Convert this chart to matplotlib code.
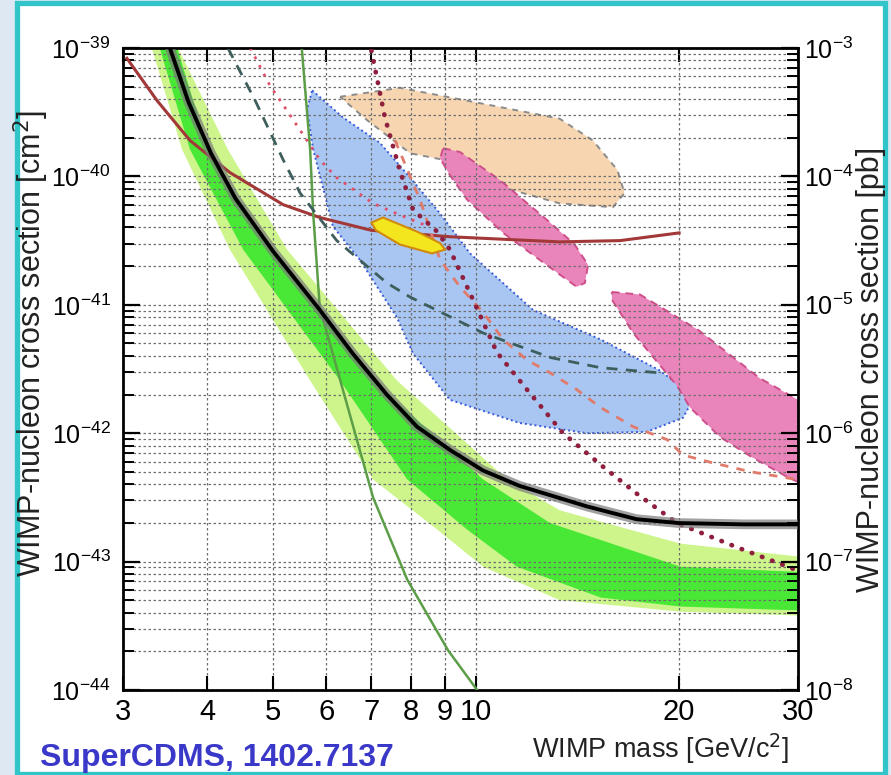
import numpy as np
import matplotlib.pyplot as plt
from matplotlib.patches import Rectangle
from matplotlib.ticker import FixedLocator, FixedFormatter, LogLocator, NullLocator, NullFormatter

plt.rcParams['font.family'] = ['Liberation Sans', 'DejaVu Sans']

# WIMP mass in GeV/c^2, cross sections stored as log10(sigma / cm^2)
black_m = [3.45, 3.52, 3.75, 4.05, 4.4, 5.0, 5.87, 6.57, 7.38, 8.18, 9.15, 10.24, 11.6, 14.6, 17.3, 20.0,
           25.0, 30.0]
black_s = [-38.88, -39.0, -39.42, -39.82, -40.17, -40.58, -41.04, -41.38, -41.70, -41.95, -42.13, -42.29,
           -42.41, -42.57, -42.67, -42.70, -42.71, -42.71]

# expected sensitivity bands (upper and lower edges)
green_up_m = [3.61, 4.01, 4.95, 7.04, 10.25, 12.88, 20.1, 30.0]
green_up_s = [-39.0, -39.79, -40.57, -41.59, -42.36, -42.70, -43.04, -43.08]
green_lo_m = [3.40, 3.77, 4.52, 6.29, 7.91, 9.70, 11.5, 15.3, 20.1, 30.0]
green_lo_s = [-39.0, -39.79, -40.57, -41.59, -42.36, -42.75, -43.04, -43.28, -43.35, -43.38]
light_up_m = [3.62, 4.29, 5.25, 7.64, 11.12, 13.3, 20.1, 30.0]
light_up_s = [-39.0, -39.79, -40.57, -41.59, -42.36, -42.60, -42.86, -42.96]
light_lo_m = [3.31, 3.67, 4.32, 5.68, 7.04, 8.76, 10.25, 13.3, 20.1, 30.0]
light_lo_s = [-39.0, -39.79, -40.57, -41.59, -42.36, -42.75, -43.04, -43.30, -43.39, -43.42]

brown_m = [3.04, 3.37, 3.77, 4.32, 5.18, 5.87, 7.0, 9.15, 13.3, 16.35, 20.0]
brown_s = [-39.08, -39.41, -39.72, -39.97, -40.22, -40.32, -40.42, -40.47, -40.51, -40.50, -40.44]

lite_m = [5.52, 5.68, 5.74, 5.87, 6.35, 7.04, 7.91, 9.09, 10.04]
lite_s = [-39.0, -39.79, -40.29, -41.02, -41.66, -42.50, -43.14, -43.69, -44.0]

xe_m = [4.29, 4.71, 5.18, 5.49, 6.22, 7.38, 7.99, 10.25, 12.88, 15.3, 18.7]
xe_s = [-39.0, -39.41, -39.87, -40.13, -40.50, -40.83, -40.94, -41.22, -41.41, -41.49, -41.53]

pink_dot_m = [4.63, 4.95, 5.30, 5.87, 6.22, 7.04, 7.71, 8.41]
pink_dot_s = [-39.0, -39.29, -39.52, -39.87, -40.01, -40.21, -40.30, -40.38]

red_dot_m = [7.0, 7.33, 7.71, 8.07, 8.76, 9.15, 9.90, 10.74, 11.9, 13.46, 15.42, 17.3, 19.85, 24.4, 30.0]
red_dot_s = [-39.02, -39.54, -39.95, -40.26, -40.43, -40.57, -40.96, -41.37, -41.66, -42.0, -42.26,
             -42.47, -42.70, -42.89, -43.07]

salmon_m = [7.59, 8.26, 8.85, 9.47, 10.25, 10.97, 11.9, 12.88, 14.1, 15.3, 17.1, 19.2, 20.26, 22.4, 25.5, 29.8]
salmon_s = [-39.72, -40.18, -40.65, -40.86, -41.06, -41.27, -41.43, -41.53, -41.66, -41.80, -41.95,
            -42.05, -42.17, -42.23, -42.30, -42.36]

# allowed regions (closed outlines)
blue_m = [5.72, 6.35, 7.21, 7.99, 8.85, 9.80, 12.15, 15.3, 18.7, 20.4, 20.76, 20.26, 17.9, 14.6, 11.6,
          9.15, 8.07, 7.64, 6.73, 6.14, 5.74, 5.62]
blue_s = [-39.33, -39.54, -39.74, -40.01, -40.29, -40.60, -41.04, -41.27, -41.51, -41.66, -41.78, -41.88,
          -41.99, -42.0, -41.92, -41.74, -41.38, -41.10, -40.65, -40.39, -39.79, -39.48]

tan_m = [6.29, 7.71, 9.70, 12.15, 13.3, 14.9, 16.2, 16.6, 15.96, 13.3, 10.86, 8.94, 7.99, 6.89]
tan_s = [-39.38, -39.31, -39.41, -39.51, -39.55, -39.72, -39.95, -40.13, -40.24, -40.21, -40.08,
         -39.87, -39.82, -39.56]

pink1_m = [8.94, 9.47, 10.86, 12.88, 14.0, 14.66, 14.5, 14.1, 12.88, 10.97, 9.70, 9.15, 8.85]
pink1_s = [-39.78, -39.81, -40.03, -40.36, -40.53, -40.69, -40.83, -40.86, -40.71, -40.44, -40.18,
           -39.99, -39.86]

pink2_m = [15.9, 17.5, 21.4, 26.3, 30.0, 30.0, 28.9, 25.7, 23.0, 20.76, 19.85, 17.1, 15.9]
pink2_s = [-40.90, -40.92, -41.20, -41.57, -41.74, -42.38, -42.34, -42.19, -42.03, -41.80, -41.63,
           -41.22, -40.96]

yellow_m = [7.0, 7.28, 8.18, 8.85, 9.0, 8.61, 7.71, 7.11]
yellow_s = [-40.36, -40.32, -40.43, -40.52, -40.57, -40.60, -40.53, -40.42]

x_ticks = [3, 4, 5, 6, 7, 8, 9, 10, 20, 30]


def sig(v):
    return np.power(10.0, np.asarray(v))


fig = plt.figure(figsize=(8.91, 7.75), dpi=100, facecolor='#dde8f3')
frame = Rectangle((17 / 891, 1 / 775), 868 / 891, 771 / 775, transform=fig.transFigure,
                  facecolor='white', edgecolor='#31c4c8', lw=3.8, zorder=-10)
fig.patches.append(frame)

ax = fig.add_axes([123 / 891, 85 / 775, 675 / 891, 642 / 775])
ax.set_xscale('log')
ax.set_yscale('log')
ax.set_xlim(3, 30)
ax.set_ylim(1e-44, 1e-39)

# bands
ax.fill(light_up_m + light_lo_m[::-1], sig(light_up_s + light_lo_s[::-1]), color='#cdf58c', lw=0, zorder=1)
ax.fill(green_up_m + green_lo_m[::-1], sig(green_up_s + green_lo_s[::-1]), color='#4ae836', lw=0, zorder=1.1)

# regions
ax.fill(tan_m, sig(tan_s), facecolor='#f6d5b0', edgecolor='#8c8c8c', ls=(0, (3, 3)), lw=1.4, zorder=1.2)
ax.fill(blue_m, sig(blue_s), facecolor='#a9c6f2', edgecolor='#3a5ad8', ls=(0, (1, 1.5)), lw=1.4, zorder=1.3)
ax.fill(pink1_m, sig(pink1_s), facecolor='#e985bb', edgecolor='#cf4f8a', ls=(0, (4, 3)), lw=1.4, zorder=1.4)
ax.fill(pink2_m, sig(pink2_s), facecolor='#e985bb', edgecolor='#cf4f8a', ls=(0, (4, 3)), lw=1.4, zorder=1.4)
ax.fill(yellow_m, sig(yellow_s), facecolor='#f4e61e', edgecolor='#d08a10', lw=1.5, zorder=3.2)

# limit curves
ax.plot(brown_m, sig(brown_s), color='#a23838', lw=2.2, zorder=3.1)
ax.plot(lite_m, sig(lite_s), color='#5c9e48', lw=1.8, zorder=3.1)
ax.plot(xe_m, sig(xe_s), color='#3d5e5c', lw=2.0, ls=(0, (4, 3)), zorder=3.1)
ax.plot(pink_dot_m, sig(pink_dot_s), color='#e0506a', lw=2.0, ls=(0, (1, 2.5)), zorder=3.1)
ax.plot(salmon_m, sig(salmon_s), color='#e07a6a', lw=2.0, ls=(0, (3, 3)), zorder=3.1)
ax.plot(red_dot_m, sig(red_dot_s), color='#8e1f3e', lw=3.4, ls=(0, (0.1, 2.2)),
        dash_capstyle='round', zorder=3.3)
ax.plot(black_m, sig(black_s), color='#7a7a7a', lw=7, alpha=0.7, solid_joinstyle='round', zorder=3.4)
ax.plot(black_m, sig(black_s), color='black', lw=2.8, solid_joinstyle='round', zorder=3.5)

# grid on top of the fills
ax.set_axisbelow(False)
grid_kw = dict(color='#6e6e6e', lw=0.9, ls=(0, (2, 2)))
ax.grid(True, which='both', axis='y', **grid_kw)
ax.grid(True, which='major', axis='x', **grid_kw)

ax.xaxis.set_major_locator(FixedLocator(x_ticks))
ax.xaxis.set_major_formatter(FixedFormatter([str(t) for t in x_ticks]))
ax.xaxis.set_minor_locator(NullLocator())
ax.xaxis.set_minor_formatter(NullFormatter())
ax.yaxis.set_major_locator(LogLocator(base=10, numticks=10))
ax.yaxis.set_minor_locator(LogLocator(base=10, subs=np.arange(2, 10), numticks=20))
ax.yaxis.set_minor_formatter(NullFormatter())

ax.tick_params(axis='x', which='major', direction='in', top=True, length=10, width=1.5,
               labelsize=21, pad=6)
ax.tick_params(axis='y', which='major', direction='in', length=12, width=1.6, labelsize=18, pad=9)
ax.tick_params(axis='y', which='minor', direction='in', length=8, width=1.4)
for sp in ax.spines.values():
    sp.set_linewidth(2)

ax.set_xlabel('WIMP mass [GeV/c$^2$]', fontsize=19.5, color='#222222')
ax.xaxis.set_label_coords(0.796, -0.065)
ax.set_ylabel('WIMP-nucleon cross section [cm$^2$]', fontsize=22, color='#222222')
ax.yaxis.set_label_coords(-0.106, 0.54)

# secondary axis in picobarn
ax2 = ax.twinx()
ax2.set_yscale('log')
ax2.set_ylim(1e-8, 1e-3)
ax2.yaxis.set_major_locator(LogLocator(base=10, numticks=10))
ax2.yaxis.set_minor_locator(LogLocator(base=10, subs=np.arange(2, 10), numticks=20))
ax2.yaxis.set_minor_formatter(NullFormatter())
ax2.tick_params(axis='y', which='major', direction='in', length=12, width=1.6, labelsize=18, pad=4)
ax2.tick_params(axis='y', which='minor', direction='in', length=8, width=1.4)
ax2.set_ylabel('WIMP-nucleon cross section [pb]', fontsize=22, color='#222222', rotation=90)
ax2.yaxis.set_label_coords(1.086, 0.50)

fig.text(40 / 891, 9 / 775, 'SuperCDMS, 1402.7137', color='#3a38c8', fontsize=23,
         fontweight='bold', va='baseline', ha='left')

fig.savefig('out.png', dpi=100, facecolor=fig.get_facecolor())
